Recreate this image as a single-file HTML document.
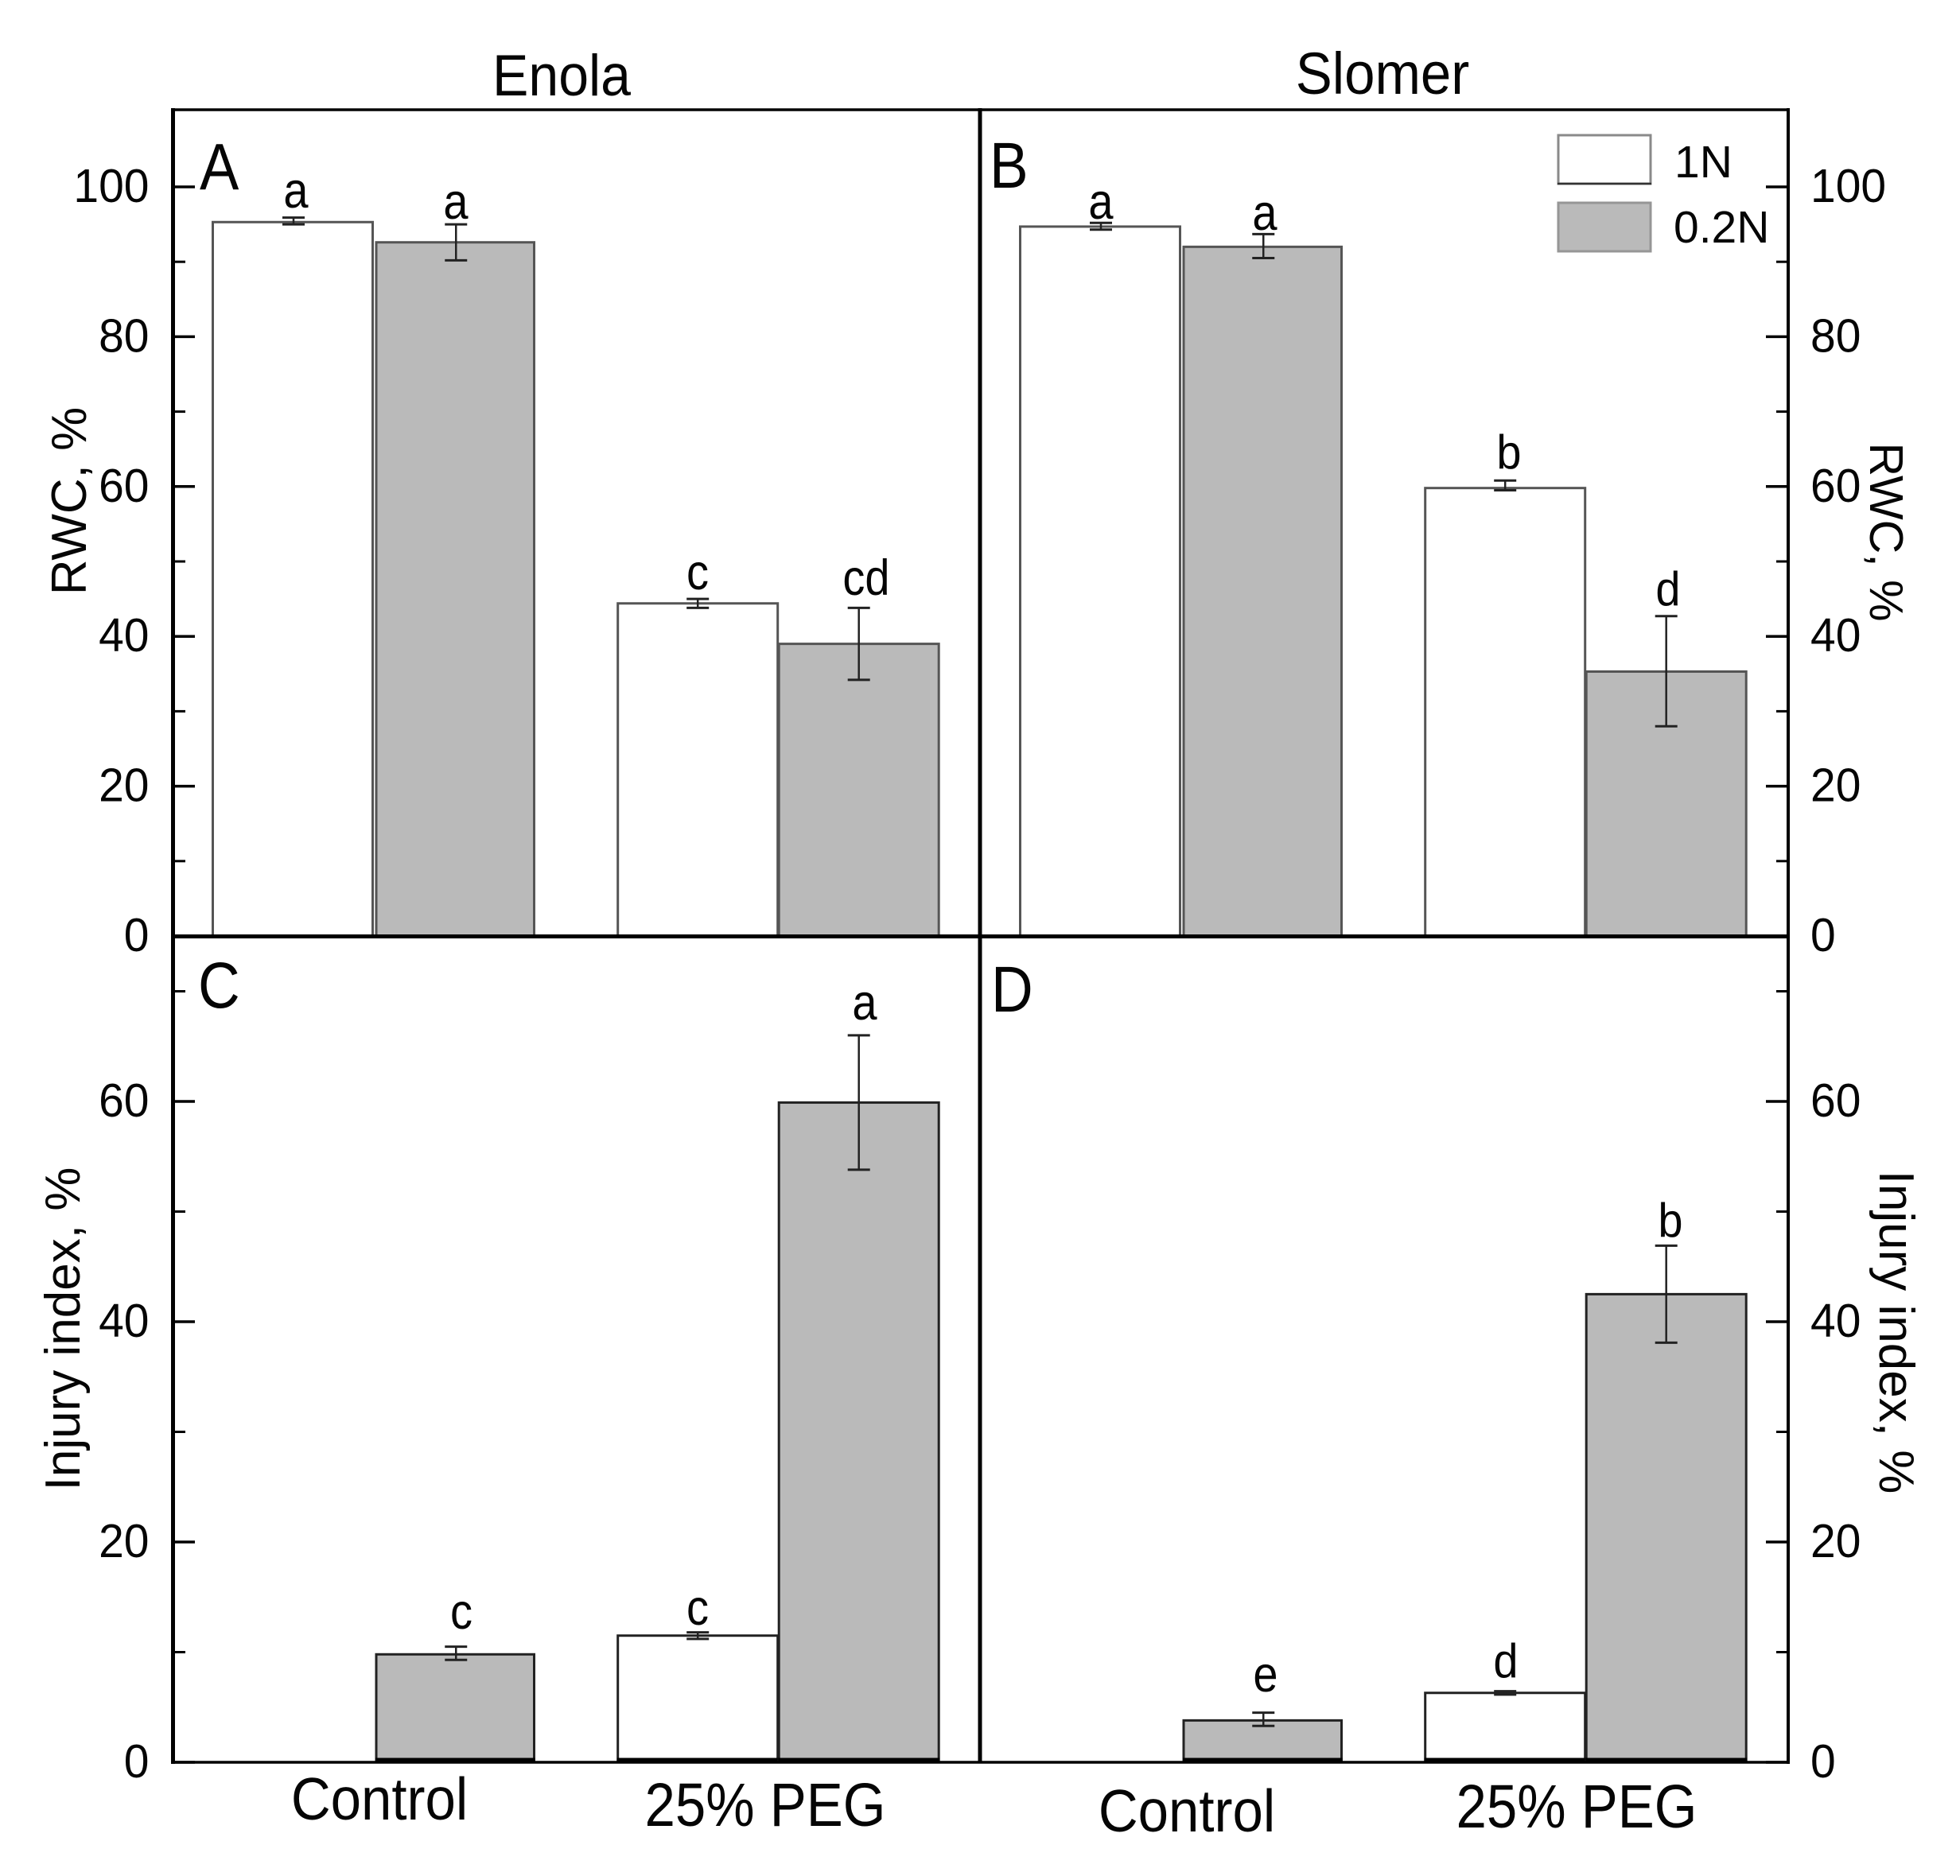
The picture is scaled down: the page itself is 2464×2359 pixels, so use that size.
<!DOCTYPE html>
<html lang="en">
<head>
<meta charset="utf-8">
<title>RWC and injury index for Enola and Slomer</title>
<style>
html,body{margin:0;padding:0;background:#fff;}
#chart{display:block;width:2464px;height:2359px;background:#fff;}
text{font-family:"Liberation Sans",Arial,sans-serif;fill:#050505;}
.tick{font-size:57px;}
.sig{font-size:56px;}
.axt{font-size:62px;}
</style>
</head>
<body>
<svg id="chart" xmlns="http://www.w3.org/2000/svg" width="2464" height="2359" viewBox="0 0 2464 2359">
  <g id="marks"></g>
  <g id="axes"></g>

  <text transform="translate(706,120) scale(1,1.08)" text-anchor="middle" font-size="68">Enola</text>
  <text transform="translate(1738,118) scale(1,1.08)" text-anchor="middle" font-size="69">Slomer</text>

  <text transform="translate(251,238) scale(1,1.12)" font-size="74">A</text>
  <text transform="translate(1244,236) scale(1,1.12)" font-size="73">B</text>
  <text transform="translate(249,1267) scale(1,1.12)" font-size="73">C</text>
  <text transform="translate(1246,1272) scale(1,1.12)" font-size="73">D</text>

  <text class="axt" transform="translate(108,630) rotate(-90)" text-anchor="middle">RWC, %</text>
  <text class="axt" transform="translate(2351,669) rotate(90)" text-anchor="middle" style="font-size:59px">RWC, %</text>
  <text class="axt" transform="translate(100,1671) rotate(-90)" text-anchor="middle">Injury index, %</text>
  <text class="axt" transform="translate(2363,1675) rotate(90)" text-anchor="middle">Injury index, %</text>

  <text transform="translate(477,2288) scale(1,1.09)" text-anchor="middle" font-size="69">Control</text>
  <text transform="translate(962,2296) scale(1,1.11)" text-anchor="middle" font-size="69">25% PEG</text>
  <text transform="translate(1492,2303) scale(1,1.09)" text-anchor="middle" font-size="69">Control</text>
  <text transform="translate(1982,2298) scale(1,1.11)" text-anchor="middle" font-size="69">25% PEG</text>

  <text class="sig" transform="translate(372,261) scale(1,1.12)" text-anchor="middle">a</text>
  <text class="sig" transform="translate(573,275) scale(1,1.12)" text-anchor="middle">a</text>
  <text class="sig" transform="translate(877,741) scale(1,1.12)" text-anchor="middle">c</text>
  <text class="sig" transform="translate(1089,748) scale(1,1.12)" text-anchor="middle">cd</text>
  <text class="sig" transform="translate(1384,275) scale(1,1.12)" text-anchor="middle">a</text>
  <text class="sig" transform="translate(1590,289) scale(1,1.12)" text-anchor="middle">a</text>
  <text class="sig" transform="translate(1897,589) scale(1,1.08)" text-anchor="middle">b</text>
  <text class="sig" transform="translate(2097,761) scale(1,1.08)" text-anchor="middle">d</text>
  <text class="sig" transform="translate(580,2048) scale(1,1.12)" text-anchor="middle">c</text>
  <text class="sig" transform="translate(877,2043) scale(1,1.12)" text-anchor="middle">c</text>
  <text class="sig" transform="translate(1087,1282) scale(1,1.12)" text-anchor="middle">a</text>
  <text class="sig" transform="translate(1591,2127) scale(1,1.12)" text-anchor="middle">e</text>
  <text class="sig" transform="translate(1893,2109) scale(1,1.08)" text-anchor="middle">d</text>
  <text class="sig" transform="translate(2100,1555) scale(1,1.08)" text-anchor="middle">b</text>

  <g>
    <rect x="1959" y="170" width="116" height="61" fill="#fff" stroke="#8a8a8a" stroke-width="3"/>
    <line x1="1958" x2="2076" y1="231" y2="231" stroke="#333" stroke-width="2.5"/>
    <text class="tick" x="2105" y="223">1N</text>
    <rect x="1959" y="255" width="116" height="61" fill="#bababa" stroke="#969696" stroke-width="3"/>
    <text class="tick" x="2104" y="305">0.2N</text>
  </g>
</svg>

<script>
// Chart data
const categories = ['Control', '25% PEG'];
const seriesNames = ['1N', '0.2N'];

const rwcTicks = [0, 20, 40, 60, 80, 100];
const rwcMinorTicks = [10, 30, 50, 70, 90];
const injuryTicks = [0, 20, 40, 60];
const injuryMinorTicks = [10, 30, 50, 70];

const rwcEnola1N = [95.3, 44.4];
const rwcEnola1NErrLow = [95.0, 43.8];
const rwcEnola1NErrHigh = [95.9, 45.0];
const rwcEnola02N = [92.6, 39.0];
const rwcEnola02NErrLow = [90.2, 34.2];
const rwcEnola02NErrHigh = [95.0, 43.8];

const rwcSlomer1N = [94.7, 59.8];
const rwcSlomer1NErrLow = [94.3, 59.5];
const rwcSlomer1NErrHigh = [95.2, 60.8];
const rwcSlomer02N = [92.0, 35.3];
const rwcSlomer02NErrLow = [90.5, 28.0];
const rwcSlomer02NErrHigh = [93.7, 42.7];

const injuryEnola1N = [0, 11.5];
const injuryEnola1NErrLow = [0, 11.2];
const injuryEnola1NErrHigh = [0, 11.8];
const injuryEnola02N = [9.8, 59.9];
const injuryEnola02NErrLow = [9.3, 53.8];
const injuryEnola02NErrHigh = [10.5, 66.0];

const injurySlomer1N = [0, 6.3];
const injurySlomer1NErrLow = [0, 6.15];
const injurySlomer1NErrHigh = [0, 6.45];
const injurySlomer02N = [3.8, 42.5];
const injurySlomer02NErrLow = [3.3, 38.1];
const injurySlomer02NErrHigh = [4.5, 46.9];

// Axis functions
const NS = 'http://www.w3.org/2000/svg';
function yRwc(v) { return 1177 - 9.42 * v; }
function yInjury(v) { return 2216 - 13.85 * v; }
function groupCenter(side, catIndex) { return (side === 0 ? 470.5 : 1485.5) + 509.2 * catIndex; }
function barLeft(side, catIndex, seriesIndex) {
  const offset = seriesIndex === 0 ? -203 : (catIndex === 1 ? -0.5 : 2.5);
  return groupCenter(side, catIndex) + offset;
}
function barWidth(catIndex, seriesIndex) { return (seriesIndex === 0 || catIndex === 1) ? 201 : 198.5; }

function svgEl(tag, attrs) {
  const el = document.createElementNS(NS, tag);
  for (const k in attrs) { el.setAttribute(k, attrs[k]); }
  return el;
}

const marks = document.getElementById('marks');
const axes = document.getElementById('axes');

function drawSeries(side, lower, seriesIndex, values, errLow, errHigh, panelName) {
  const yScale = lower ? yInjury : yRwc;
  const base = yScale(0);
  values.forEach(function (v, c) {
    if (v <= 0) { return; }
    const left = barLeft(side, c, seriesIndex);
    const width = barWidth(c, seriesIndex);
    const edge = lower ? '#222222' : '#555555';
    const bar = svgEl('rect', {
      x: left, y: yScale(v), width: width, height: base - yScale(v),
      fill: seriesIndex === 0 ? '#ffffff' : '#bababa',
      stroke: edge, 'stroke-width': 3
    });
    
    
    marks.appendChild(bar);

    if (lower) {
      const foot = svgEl('line', { x1: left - 1, x2: left + width + 1, y1: base - 2.5, y2: base - 2.5, stroke: '#000', 'stroke-width': 6 });
      
      
      marks.appendChild(foot);
    }

    const cx = left + width / 2 + (c === 0 ? 1 : 0);
    const stem = svgEl('line', { x1: cx, x2: cx, y1: yScale(errHigh[c]), y2: yScale(errLow[c]), stroke: '#222', 'stroke-width': 2.5 });
    
    
    marks.appendChild(stem);

    const capTop = svgEl('line', { x1: cx - 14, x2: cx + 14, y1: yScale(errHigh[c]), y2: yScale(errHigh[c]), stroke: '#222', 'stroke-width': 3 });
    
    
    marks.appendChild(capTop);

    const capLow = svgEl('line', { x1: cx - 14, x2: cx + 14, y1: yScale(errLow[c]), y2: yScale(errLow[c]), stroke: '#222', 'stroke-width': 3 });
    
    
    marks.appendChild(capLow);
  });
}

drawSeries(0, false, 0, rwcEnola1N, rwcEnola1NErrLow, rwcEnola1NErrHigh, 'rwc-enola');
drawSeries(0, false, 1, rwcEnola02N, rwcEnola02NErrLow, rwcEnola02NErrHigh, 'rwc-enola');
drawSeries(1, false, 0, rwcSlomer1N, rwcSlomer1NErrLow, rwcSlomer1NErrHigh, 'rwc-slomer');
drawSeries(1, false, 1, rwcSlomer02N, rwcSlomer02NErrLow, rwcSlomer02NErrHigh, 'rwc-slomer');
drawSeries(0, true, 0, injuryEnola1N, injuryEnola1NErrLow, injuryEnola1NErrHigh, 'injury-enola');
drawSeries(0, true, 1, injuryEnola02N, injuryEnola02NErrLow, injuryEnola02NErrHigh, 'injury-enola');
drawSeries(1, true, 0, injurySlomer1N, injurySlomer1NErrLow, injurySlomer1NErrHigh, 'injury-slomer');
drawSeries(1, true, 1, injurySlomer02N, injurySlomer02NErrLow, injurySlomer02NErrHigh, 'injury-slomer');

// Frame
function frameLine(name, x1, y1, x2, y2, w) {
  const l = svgEl('line', { x1: x1, y1: y1, x2: x2, y2: y2, stroke: '#000', 'stroke-width': w });
  
  
  axes.appendChild(l);
}
frameLine('frame-top', 215, 138, 2250, 138, 3.5);
frameLine('frame-left', 217.5, 136, 217.5, 2218, 5);
frameLine('frame-divider-vertical', 1232, 136, 1232, 2217, 5);
frameLine('frame-right', 2248, 136, 2248, 2218, 4);
frameLine('frame-divider-horizontal', 215, 1177.5, 2250, 1177.5, 5);
frameLine('frame-bottom', 215, 2216, 2250, 2216, 3.5);

function drawTicks(ticks, minor, yScale, axisName) {
  ticks.forEach(function (t) {
    const y = yScale(t);
    const lt = svgEl('line', { x1: 218, x2: 245, y1: y, y2: y, stroke: '#000', 'stroke-width': 3.5 });
    
    
    axes.appendChild(lt);

    const rt = svgEl('line', { x1: 2220, x2: 2248, y1: y, y2: y, stroke: '#000', 'stroke-width': 3.5 });
    
    
    axes.appendChild(rt);

    const ll = svgEl('text', { transform: 'translate(187.5,' + (y + 19) + ') scale(1,1.04)', 'text-anchor': 'end', class: 'tick' });
    
    
    ll.textContent = String(t);
    axes.appendChild(ll);

    const rl = svgEl('text', { transform: 'translate(2276,' + (y + 19) + ') scale(1,1.04)', class: 'tick' });
    
    
    rl.textContent = String(t);
    axes.appendChild(rl);
  });
  minor.forEach(function (t) {
    const y = yScale(t);
    const lm = svgEl('line', { x1: 218, x2: 233, y1: y, y2: y, stroke: '#000', 'stroke-width': 3 });
    
    
    axes.appendChild(lm);

    const rm = svgEl('line', { x1: 2233, x2: 2248, y1: y, y2: y, stroke: '#000', 'stroke-width': 3 });
    
    
    axes.appendChild(rm);
  });
}
drawTicks(rwcTicks, rwcMinorTicks, yRwc, 'rwc-axis');
drawTicks(injuryTicks, injuryMinorTicks, yInjury, 'injury-axis');
</script>
</body>
</html>
